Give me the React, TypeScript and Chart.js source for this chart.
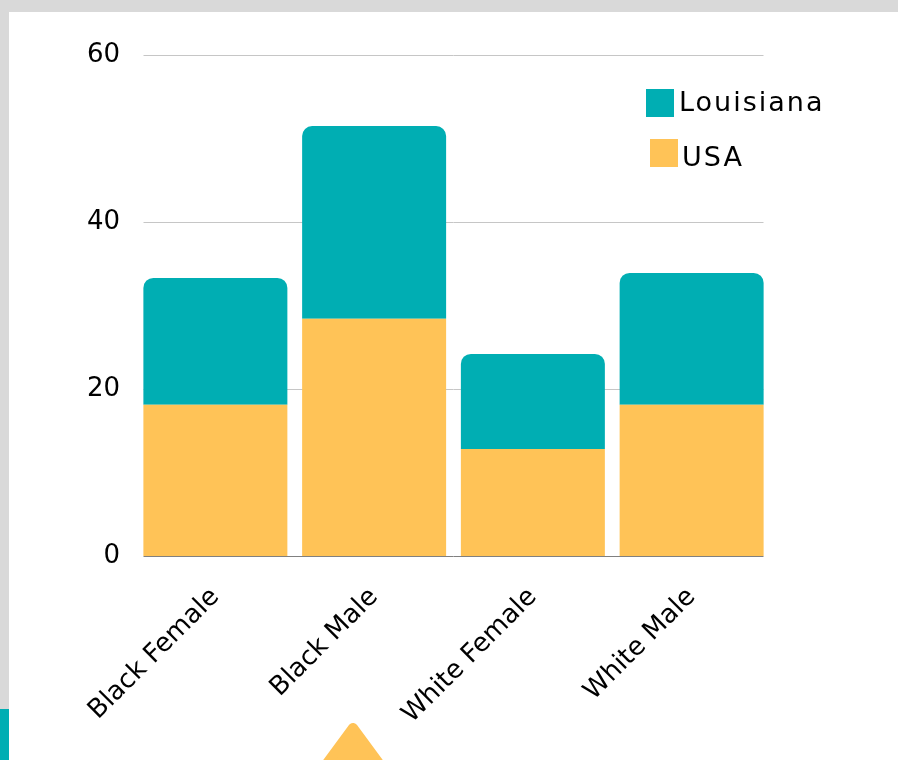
import React, { useEffect, useRef } from "react";
import { Chart, registerables } from "chart.js";

Chart.register(...registerables);

const categories = ["Black Female", "Black Male", "White Female", "White Male"];
const usaValues = [18.1, 28.4, 12.8, 18.1];
const louisianaValues = [15.2, 23.1, 11.4, 15.8];
const yTicks = [0, 20, 40, 60];

const TEAL = "#00AEB3";
const ORANGE = "#FFC357";
const FONT = "DejaVu Sans";

const gridPlugin = {
  id: "insetGrid",
  beforeDatasetsDraw(chart: any) {
    const { ctx, chartArea, scales } = chart;
    const y = scales.y;
    const inset = 7.5;
    ctx.save();
    yTicks.forEach((v) => {
      const py = Math.round(y.getPixelForValue(v)) + 0.5;
      ctx.beginPath();
      ctx.strokeStyle = v === 0 ? "#808080" : "#c6c6c6";
      ctx.lineWidth = 1;
      ctx.moveTo(chartArea.left + inset, py);
      ctx.lineTo(chartArea.right - inset, py);
      ctx.stroke();
    });
    ctx.restore();
  },
};

export default function App() {
  const ref = useRef<HTMLCanvasElement | null>(null);

  useEffect(() => {
    if (!ref.current) return;
    const chart = new Chart(ref.current, {
      type: "bar",
      data: {
        labels: categories,
        datasets: [
          {
            label: "USA",
            data: usaValues,
            backgroundColor: ORANGE,
            borderWidth: 0,
            borderRadius: 0,
            barPercentage: 0.907,
            categoryPercentage: 1,
          },
          {
            label: "Louisiana",
            data: louisianaValues,
            backgroundColor: TEAL,
            borderWidth: 0,
            borderRadius: { topLeft: 10, topRight: 10, bottomLeft: 0, bottomRight: 0 },
            borderSkipped: false,
            barPercentage: 0.907,
            categoryPercentage: 1,
          },
        ],
      },
      options: {
        responsive: false,
        animation: false,
        maintainAspectRatio: false,
        layout: { padding: { top: 55, right: 127, left: 0, bottom: 0 } },
        plugins: { legend: { display: false }, tooltip: { enabled: false } },
        scales: {
          x: {
            stacked: true,
            grid: { display: false, drawTicks: false },
            border: { display: false },
            ticks: {
              color: "#000",
              font: { family: FONT, size: 26 },
              minRotation: 45,
              maxRotation: 45,
              padding: 26,
            },
            afterFit: (s: any) => {
              s.height = 204;
            },
          },
          y: {
            stacked: true,
            min: 0,
            max: 60,
            afterBuildTicks: (s: any) => {
              s.ticks = yTicks.map((v) => ({ value: v }));
            },
            grid: { display: false, drawTicks: false },
            border: { display: false },
            ticks: {
              color: "#000",
              font: { family: FONT, size: 26 },
              padding: 16,
            },
            afterFit: (s: any) => {
              s.width = 136;
            },
          },
        },
      },
      plugins: [gridPlugin],
    });
    return () => chart.destroy();
  }, []);

  return (
    <div
      style={{
        position: "fixed",
        left: 0,
        top: 0,
        width: 898,
        height: 760,
        background: "#d9d9d9",
        overflow: "hidden",
        fontFamily: FONT,
      }}
    >
      <div
        style={{
          position: "absolute",
          left: 9,
          top: 12,
          width: 889,
          height: 748,
          background: "#fff",
        }}
      />
      <div
        style={{
          position: "absolute",
          left: 0,
          top: 709,
          width: 9,
          height: 51,
          background: TEAL,
        }}
      />
      <svg
        width={898}
        height={760}
        style={{ position: "absolute", left: 0, top: 0 }}
      >
        <polygon
          points="353,728 300,800 406,800"
          fill={ORANGE}
          stroke={ORANGE}
          strokeWidth={10}
          strokeLinejoin="round"
        />
      </svg>
      <canvas
        ref={ref}
        width={898}
        height={760}
        style={{ position: "absolute", left: 0, top: 0 }}
      />
      <div
        style={{
          position: "absolute",
          left: 646,
          top: 89,
          width: 28,
          height: 28,
          background: TEAL,
        }}
      />
      <div
        style={{
          position: "absolute",
          left: 679,
          top: 84,
          fontSize: 27,
          letterSpacing: "2px",
          lineHeight: "36px",
          color: "#000",
          whiteSpace: "nowrap",
        }}
      >
        Louisiana
      </div>
      <div
        style={{
          position: "absolute",
          left: 650,
          top: 139,
          width: 28,
          height: 28,
          background: ORANGE,
        }}
      />
      <div
        style={{
          position: "absolute",
          left: 682,
          top: 139,
          fontSize: 27,
          letterSpacing: "2px",
          lineHeight: "36px",
          color: "#000",
          whiteSpace: "nowrap",
        }}
      >
        USA
      </div>
    </div>
  );
}
